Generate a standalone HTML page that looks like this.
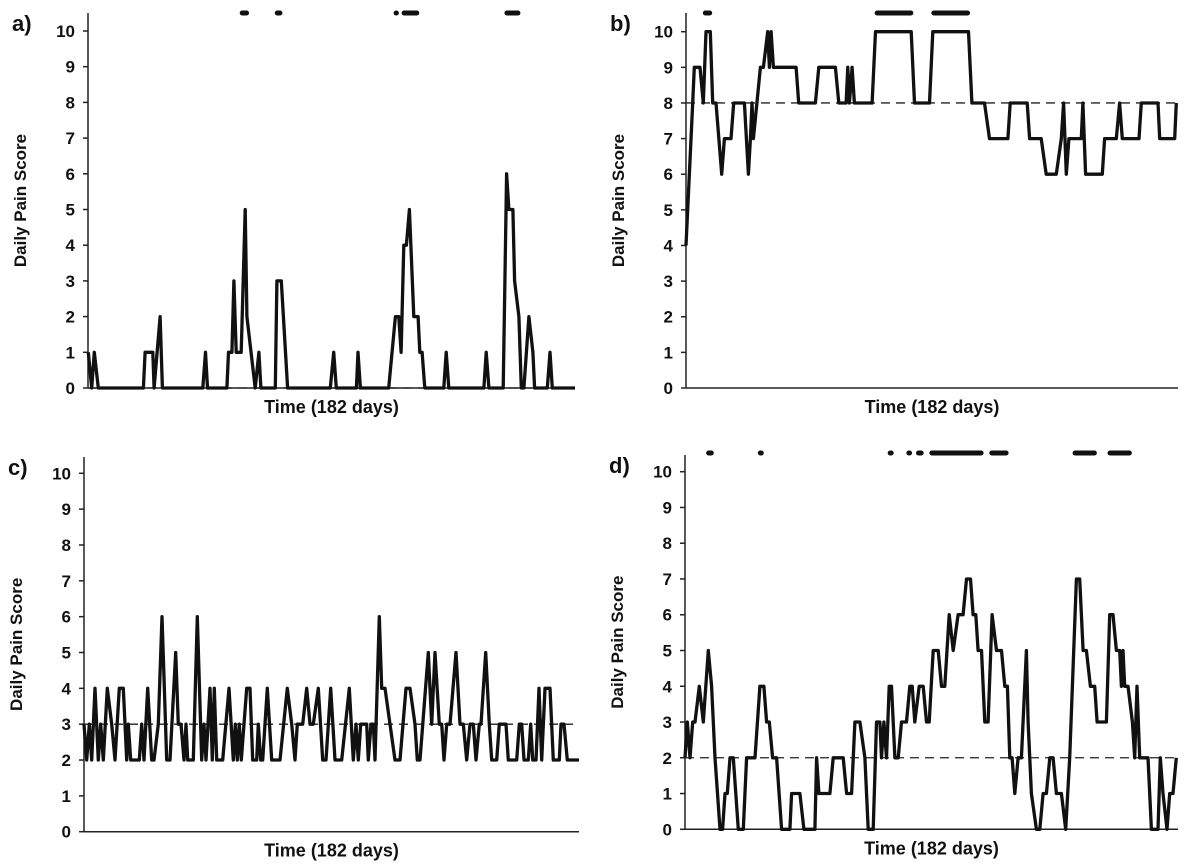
<!DOCTYPE html>
<html><head><meta charset="utf-8"><style>
body{margin:0;background:#fff;width:1189px;height:865px;overflow:hidden}
svg{display:block}
text{font-family:"Liberation Sans",Arial,sans-serif;font-weight:bold;fill:#111}
</style></head><body>
<svg id="chart" width="1189" height="865"></svg>
<script>
// Time positions (arbitrary time units across the 182 days) and daily pain scores, per panel
const aTime=[25,35,43,55,190,195,218,222,240,247,368,376,382,440,445,455,461,468,483,495,500,525,536,542,585,590,603,622,750,760,768,828,833,840,925,945,955,962,970,978,987,1000,1013,1018,1025,1033,1090,1097,1105,1210,1217,1225,1268,1278,1285,1297,1302,1315,1322,1330,1345,1357,1362,1400,1408,1415,1483];
const aScore=[1,0,1,0,0,1,1,0,2,0,0,1,0,0,1,1,3,1,1,5,2,0,1,0,0,3,3,0,0,1,0,0,1,0,0,2,2,1,4,4,5,2,2,1,1,0,0,1,0,0,1,0,0,6,5,5,3,2,0,0,2,1,0,0,1,0,0];
const aMarks=[[480,505],[585,605],[942,953],[965,1015],[1273,1318]];
const bTime=[20,40,45,62,72,80,93,100,110,127,135,155,163,190,195,207,213,218,222,243,252,265,270,275,282,288,350,358,408,418,468,478,500,505,510,518,525,578,588,695,705,750,760,867,877,915,930,985,992,1043,1050,1085,1100,1130,1145,1152,1160,1168,1205,1210,1218,1268,1275,1310,1320,1328,1378,1385,1435,1440,1485,1490];
const bScore=[4,8,9,9,8,10,10,8,8,6,7,7,8,8,8,6,7,8,7,9,9,10,9,10,9,9,9,8,8,9,9,8,8,9,8,9,8,8,10,10,8,8,10,10,8,8,7,7,8,8,7,7,6,6,7,8,6,7,7,8,6,6,7,7,8,7,7,8,8,7,7,8];
const bMarks=[[72,97],[587,700],[757,870]];
const cTime=[12,20,28,35,45,55,62,70,82,95,105,118,130,140,145,152,160,178,185,192,203,215,222,235,246,260,270,287,295,303,312,318,323,340,352,365,372,378,390,397,403,410,420,428,447,460,466,472,478,484,492,500,510,518,530,535,542,548,562,575,600,622,635,645,652,668,680,690,700,715,728,738,752,765,785,808,820,828,835,842,860,865,873,880,885,898,905,915,930,945,960,978,990,1005,1012,1020,1045,1055,1065,1078,1085,1092,1100,1110,1128,1140,1150,1160,1170,1180,1188,1198,1203,1217,1228,1235,1250,1258,1278,1285,1310,1318,1325,1332,1345,1352,1358,1368,1377,1385,1395,1410,1420,1438,1443,1452,1462,1497];
const cScore=[3,2,3,2,4,2,3,2,4,3,2,4,4,2,3,2,2,2,3,2,4,2,2,3,6,2,2,5,3,3,2,3,2,2,6,2,3,2,4,2,4,2,2,2,4,2,3,2,3,2,3,4,4,2,2,3,2,2,4,2,2,4,3,2,3,3,4,3,3,4,2,2,4,2,2,4,2,3,2,3,3,2,3,3,2,6,4,4,3,2,2,4,4,3,2,2,5,3,5,3,3,2,3,3,5,3,3,2,3,3,2,3,3,5,3,2,2,3,3,2,2,3,3,2,2,3,2,2,4,2,4,4,2,2,3,3,2,2];
const dTime=[15,22,30,38,45,58,70,85,95,105,120,128,135,142,150,160,175,190,200,225,240,252,260,268,278,290,305,330,335,360,372,405,410,417,450,460,490,500,515,525,540,555,565,580,590,600,605,612,620,628,635,645,655,665,680,690,697,705,718,730,740,748,760,775,785,795,808,820,835,850,860,872,880,888,895,905,915,925,937,950,965,975,983,990,997,1005,1015,1025,1040,1045,1055,1070,1080,1090,1100,1110,1120,1130,1145,1158,1170,1190,1200,1210,1220,1232,1245,1252,1280,1290,1300,1310,1320,1325,1330,1335,1345,1358,1365,1372,1380,1405,1415,1435,1442,1450,1462,1470,1480,1490];
const dScore=[2,3,2,3,3,4,3,5,4,2,0,0,1,1,2,2,0,0,2,2,4,4,3,3,2,2,0,0,1,1,0,0,2,1,1,2,2,1,1,3,3,2,0,0,3,3,2,3,2,4,4,2,2,3,3,4,4,3,4,4,3,3,5,5,4,4,6,5,6,6,7,7,6,6,5,5,3,3,6,5,5,4,4,2,2,1,2,2,5,3,1,0,0,1,1,2,2,1,1,0,2,7,7,5,5,4,4,3,3,6,6,5,5,4,5,4,4,3,2,4,2,2,0,0,2,1,0,1,1,2];
const dMarks=[[80,100],[235,250],[625,640],[683,693],[710,730],[750,910],[930,985],[1180,1250],[1285,1355]];
const yTicks=[0,1,2,3,4,5,6,7,8,9,10];

const NS="http://www.w3.org/2000/svg";
const svg=document.getElementById('chart');
function mk(tag,attrs,parent){const e=document.createElementNS(NS,tag);for(const k in attrs)e.setAttribute(k,attrs[k]);(parent||svg).appendChild(e);return e;}

const panels=[
 {id:'a',label:'a)',time:aTime,score:aScore,marks:aMarks,ref:0,t0:24,t1:1483,x0:88,x1:575,y0:388,y10:31,top:13,mark:13},
 {id:'b',label:'b)',time:bTime,score:bScore,marks:bMarks,ref:8,t0:20,t1:1495,x0:686,x1:1178,y0:388,y10:31.7,top:13,mark:13},
 {id:'c',label:'c)',time:cTime,score:cScore,marks:[],ref:3,t0:12,t1:1497,x0:84,x1:579,y0:831.7,y10:473.3,top:457,mark:453},
 {id:'d',label:'d)',time:dTime,score:dScore,marks:dMarks,ref:2,t0:15,t1:1495,x0:685,x1:1178,y0:829.3,y10:471.7,top:455,mark:453}
];

panels.forEach(p=>{
 const g=mk('g',{});
 
 
 const xs=t=>p.x0+(t-p.t0)/(p.t1-p.t0)*(p.x1-p.x0);
 const ys=v=>p.y0+(p.y10-p.y0)*v/10;
 const lab=mk('text',{x:p.x0-76,y:p.top+18,'font-size':22},g);lab.textContent=p.label;
 
 
 const ya=mk('line',{x1:p.x0,y1:p.top,x2:p.x0,y2:p.y0,stroke:'#222','stroke-width':1.5},g);
 
 
 const xa=mk('line',{x1:p.x0,y1:p.y0,x2:p.x1,y2:p.y0,stroke:'#222','stroke-width':1.5},g);
 
 
 yTicks.forEach(v=>{
  const tk=mk('line',{x1:p.x0-5,y1:ys(v),x2:p.x0,y2:ys(v),stroke:'#222','stroke-width':1.5},g);
  
  
  const tl=mk('text',{x:p.x0-13,y:ys(v)+6,'text-anchor':'end','font-size':17},g);
  tl.textContent=v;
  
  
 });
 const cy=(p.top+p.y0)/2;
 const yt=mk('text',{x:0,y:0,'text-anchor':'middle','font-size':17,transform:`translate(${p.x0-62},${cy}) rotate(-90)`},g);
 yt.textContent='Daily Pain Score';
 
 
 const xt=mk('text',{x:(p.x0+p.x1)/2,y:p.y0+25,'text-anchor':'middle','font-size':18},g);
 xt.textContent='Time (182 days)';
 
 
 const rl=mk('line',{x1:p.x0,y1:ys(p.ref),x2:p.x1,y2:ys(p.ref),stroke:'#222','stroke-width':1.3,'stroke-dasharray':'9,6'},g);
 
 
 const pts=p.time.map((t,i)=>xs(t).toFixed(1)+','+ys(p.score[i]).toFixed(1)).join(' ');
 const pl=mk('polyline',{points:pts,fill:'none',stroke:'#111','stroke-width':3.3,'stroke-linejoin':'round'},g);
 
 
 p.marks.forEach(m=>{
  const mm=mk('line',{x1:xs(m[0])+2,y1:p.mark,x2:xs(m[1])-2,y2:p.mark,stroke:'#111','stroke-width':5,'stroke-linecap':'round'},g);
  
  
 });
});
</script>
</body></html>
